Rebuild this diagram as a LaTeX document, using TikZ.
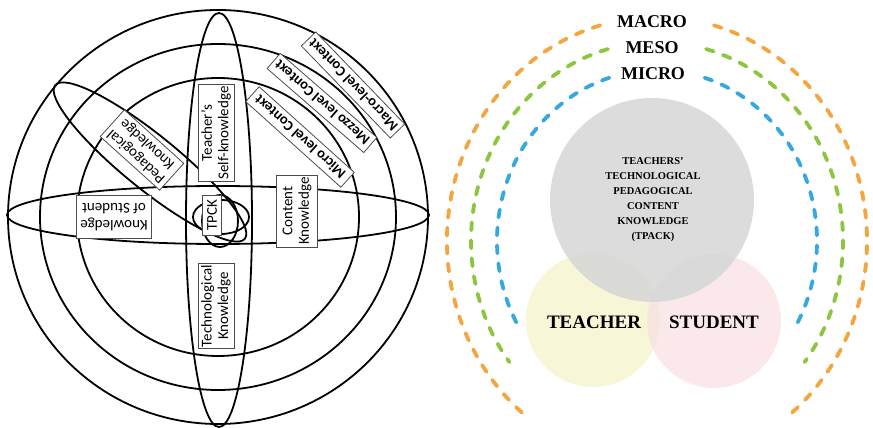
\documentclass[tikz,border=0pt]{standalone}
\usepackage{fontspec}
\setmainfont{Liberation Serif}
\newfontfamily\calibri{Carlito}
\begin{document}
\begin{tikzpicture}[x=1pt,y=1pt,
  ring/.style={line width=1.8pt, draw=black},
  lab/.style={draw=black!70, line width=0.8pt, fill=white, inner sep=0pt, align=center,
              font=\calibri\fontsize{15}{16.5}\selectfont},
  ctx/.style={lab, minimum width=128pt, minimum height=20pt, font=\calibri\bfseries\fontsize{14.5}{15}\selectfont},
  dsh/.style={line width=3.8pt, line cap=round, dash pattern=on 8pt off 10pt},
  lvl/.style={font=\bfseries\fontsize{18}{18}\selectfont, inner sep=0pt},
  big/.style={font=\bfseries\fontsize{19}{19}\selectfont, inner sep=0pt},
  disc/.style={circle, inner sep=0pt, draw=none},
]
\definecolor{morange}{HTML}{F4A540}
\definecolor{mgreen}{HTML}{8CC63F}
\definecolor{mblue}{HTML}{35A8E0}
\definecolor{mgrey}{HTML}{D6D6D6}
\definecolor{myellow}{HTML}{F7F6D6}
\definecolor{mpink}{HTML}{F8E0E3}
\useasboundingbox (0,0) rectangle (873,428);

% ---------------- left diagram ----------------
\coordinate (c) at (218,211);
\draw[ring] (c) ellipse [x radius=210, y radius=207];
\draw[ring] (c) ellipse [x radius=178, y radius=173];
\draw[ring] (c) ellipse [x radius=141, y radius=139];
\draw[ring] (219,208) ellipse [x radius=33, y radius=207];
\draw[ring] (218,213) ellipse [x radius=211, y radius=29];
\draw[ring, rotate around={-39:(150,266)}] (150,266) ellipse [x radius=122, y radius=27];
\draw[ring] (221,211) ellipse [x radius=28, y radius=17];
\draw[ring] (220,207) ellipse [x radius=18, y radius=26];

\node[lab, minimum width=97pt, minimum height=36pt, rotate=90] (tsk) at (216,295) {Teacher’s\\Self-knowledge};
\node[lab, minimum width=85pt, minimum height=36pt, rotate=90] (tk) at (216,122) {Technological\\Knowledge};
\node[lab, minimum width=72pt, minimum height=41pt, rotate=90] (ck) at (297,217) {Content\\Knowledge};
\node[lab, minimum width=75pt, minimum height=43pt, rotate=180] (ks) at (114,211) {Knowledge\\of Student};
\node[lab, minimum width=80pt, minimum height=36pt, rotate=138] (pk) at (142,278) {Pedagogical\\Knowledge};
\node[ctx, rotate=134] (macro) at (353,343) {Macro-level Context};
\node[ctx, rotate=139] (mezzo) at (322,325) {Mezzo level Context};
\node[ctx, rotate=138] (micro) at (300,291) {Micro level Context};
\node[lab, minimum width=40pt, minimum height=19pt, rotate=90] (tpck) at (212,213) {TPCK};

% ---------------- right diagram ----------------
\node[disc, minimum size=134pt, fill=myellow] (tc) at (593,108) {};
\node[disc, minimum size=134pt, fill=mpink, fill opacity=0.75] (sc) at (714,107) {};
\node[disc, minimum size=204pt, fill=mgrey, fill opacity=0.85] (gc) at (652,228) {};

\node[font=\bfseries\fontsize{10.5}{15}\selectfont, align=center, inner sep=0pt] (tpack) at (653,228)
  {TEACHERS'\\TECHNOLOGICAL\\PEDAGOGICAL\\CONTENT\\KNOWLEDGE\\(TPACK)};
\node[big] (teacher) at (594,106) {TEACHER};
\node[big] (student) at (714,106) {STUDENT};

\coordinate (o) at (657,187);
\draw[dsh, morange] (o) ++(105.7:210 and 224) arc[start angle=105.7, end angle=230, x radius=210, y radius=224];
\draw[dsh, morange] (o) ++(74.3:210 and 224) arc[start angle=74.3, end angle=-50, x radius=210, y radius=224];
\draw[dsh, mgreen] (o) ++(105.3:186 and 199) arc[start angle=105.3, end angle=217.5, x radius=186, y radius=199];
\draw[dsh, mgreen] (o) ++(74.7:186 and 199) arc[start angle=74.7, end angle=-37.5, x radius=186, y radius=199];
\draw[dsh, mblue] (o) ++(107.3:160 and 171) arc[start angle=107.3, end angle=209.5, x radius=160, y radius=171];
\draw[dsh, mblue] (o) ++(72.7:160 and 171) arc[start angle=72.7, end angle=-29.5, x radius=160, y radius=171];

\node[lvl] (lmacro) at (652,406) {MACRO};
\node[lvl] (lmeso) at (652,380) {MESO};
\node[lvl] (lmicro) at (653,354) {MICRO};
\end{tikzpicture}
\end{document}
